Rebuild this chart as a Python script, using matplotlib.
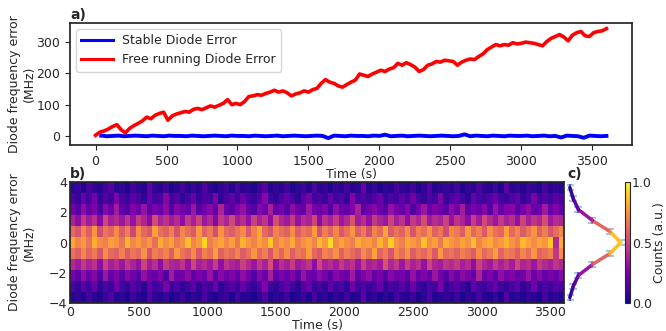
import matplotlib
matplotlib.use('Agg')
import matplotlib.pyplot as plt
import matplotlib.transforms as mtransforms
from matplotlib.collections import LineCollection
import numpy as np

# free running diode error (MHz), sampled every 30 s from 0 to 3600 s
free_running = [
    2, 12, 16, 22, 30, 36, 20, 10, 24, 33,
    40, 48, 60, 55, 66, 72, 76, 50, 64, 70,
    74, 78, 76, 85, 88, 84, 90, 96, 92, 98,
    104, 116, 100, 104, 100, 110, 126, 128, 132, 130,
    136, 140, 146, 140, 144, 138, 128, 134, 138, 144,
    140, 148, 152, 168, 180, 172, 168, 160, 156, 164,
    172, 178, 198, 194, 190, 198, 204, 210, 206, 214,
    218, 232, 226, 234, 228, 220, 206, 212, 226, 230,
    238, 236, 242, 240, 238, 226, 236, 242, 246, 244,
    254, 262, 276, 284, 292, 288, 292, 290, 298, 294,
    296, 300, 298, 296, 292, 288, 302, 312, 318, 324,
    316, 304, 322, 330, 334, 320, 318, 330, 334, 336,
    343,
]

# stabilised diode error (MHz), sampled every 40 s from 40 to 3600 s
stable = [
    1, -1, 0, 1, -1, 0, 1, 0, -1, 1,
    0, -1, 1, 0, 0, -1, 1, 0, -1, 0,
    1, 0, -1, 1, 0, 0, -1, 1, 0, -1,
    0, 1, -1, 0, 1, 0, -1, 0, 1, 0,
    -7, 1, 0, -1, 1, 0, 0, -1, 1, 0,
    4, -1, 0, 1, -1, 0, 1, 0, -1, 0,
    1, 0, -1, 0, 5, -1, 1, 0, -1, 1,
    0, -1, 1, 0, 0, 1, -1, 0, 1, -1,
    0, -5, 1, 0, -1, -6, 1, 0, -1, 0,
]

# normalised counts (%) per frequency bin, top bin (+3.6 MHz) first, 40 s columns
heat_rows = [
    [5, 8, 3, 12, 6, 4, 9, 15, 5, 7, 3, 10, 6, 4, 18, 7, 5, 9, 3, 6,
     11, 4, 8, 5, 14, 6, 3, 7, 9, 4, 12, 5, 6, 3, 8, 16, 4, 7, 5, 10,
     3, 6, 9, 4, 13, 5, 7, 3, 8, 5, 11, 4, 6, 20, 5, 8, 3, 7, 4, 12,
     6, 5, 9, 3, 7, 15, 4, 6, 8, 5, 10, 3, 7, 5, 12, 6, 4, 9, 3, 17,
     5, 7, 4, 8, 6, 3, 11, 5, 7, 4],
    [12, 8, 18, 10, 22, 7, 14, 9, 25, 11, 8, 16, 12, 6, 20, 10, 13, 27, 9, 15,
     7, 11, 19, 8, 14, 10, 24, 6, 12, 17, 9, 21, 11, 8, 15, 28, 10, 7, 13, 18,
     11, 6, 16, 23, 9, 12, 8, 19, 10, 14, 7, 26, 11, 15, 9, 13, 20, 8, 12, 10,
     17, 9, 22, 11, 7, 14, 10, 25, 8, 13, 16, 10, 6, 19, 12, 9, 15, 21, 11, 8,
     13, 18, 7, 11, 24, 9, 14, 10, 16, 12],
    [22, 15, 30, 18, 25, 12, 28, 20, 35, 17, 14, 26, 21, 32, 16, 24, 19, 29, 13, 27,
     23, 18, 33, 15, 22, 28, 17, 38, 20, 16, 25, 31, 19, 14, 27, 22, 36, 18, 24, 15,
     29, 21, 17, 34, 23, 19, 26, 14, 30, 20, 18, 25, 37, 16, 22, 28, 20, 15, 31, 24,
     19, 27, 14, 23, 33, 18, 26, 21, 16, 29, 22, 35, 17, 24, 20, 28, 15, 32, 19, 25,
     27, 16, 23, 30, 18, 21, 34, 20, 26, 17],
    [38, 30, 45, 35, 42, 28, 50, 36, 40, 33, 44, 31, 47, 39, 29, 52, 37, 43, 34, 41,
     30, 46, 36, 49, 33, 40, 27, 45, 38, 51, 35, 42, 31, 48, 37, 44, 30, 53, 39, 34,
     46, 32, 41, 37, 50, 29, 43, 36, 47, 33, 40, 55, 35, 42, 31, 46, 38, 33, 49, 36,
     43, 30, 45, 39, 52, 34, 41, 37, 48, 32, 44, 38, 29, 47, 35, 51, 40, 33, 45, 37,
     42, 31, 49, 36, 44, 39, 53, 34, 41, 38],
    [62, 55, 70, 58, 75, 52, 66, 60, 72, 57, 68, 50, 73, 61, 56, 78, 64, 59, 69, 54,
     71, 63, 57, 76, 60, 67, 53, 74, 62, 58, 65, 72, 56, 69, 80, 61, 55, 70, 64, 59,
     73, 57, 66, 62, 77, 54, 68, 60, 71, 56, 64, 75, 58, 67, 53, 70, 62, 79, 57, 65,
     60, 72, 55, 68, 63, 74, 59, 66, 52, 71, 67, 58, 76, 61, 69, 56, 73, 64, 60, 78,
     62, 70, 57, 66, 74, 59, 68, 55, 63, 71],
    [80, 70, 76, 65, 82, 72, 68, 78, 74, 66, 84, 71, 77, 69, 75, 63, 81, 73, 79, 67,
     72, 86, 70, 76, 92, 68, 74, 80, 71, 78, 66, 83, 75, 70, 79, 73, 88, 69, 77, 72,
     81, 67, 74, 78, 70, 85, 76, 93, 71, 79, 73, 68, 82, 75, 77, 70, 84, 72, 90, 74,
     69, 80, 76, 71, 87, 73, 78, 67, 82, 75, 71, 79, 74, 86, 70, 77, 81, 72, 76, 83,
     74, 69, 85, 78, 72, 80, 75, 88, 40, 82],
    [64, 58, 71, 60, 67, 55, 73, 62, 59, 69, 57, 66, 61, 74, 54, 68, 63, 70, 58, 76,
     65, 60, 72, 56, 69, 63, 78, 59, 66, 61, 70, 57, 64, 75, 62, 68, 55, 71, 60, 73,
     58, 67, 63, 77, 61, 56, 70, 65, 74, 59, 68, 62, 57, 72, 64, 79, 60, 67, 55, 71,
     63, 74, 58, 66, 61, 70, 56, 76, 62, 65, 59, 69, 64, 57, 73, 61, 67, 78, 60, 68,
     66, 58, 71, 63, 75, 60, 64, 69, 45, 72],
    [40, 34, 46, 37, 43, 30, 48, 36, 41, 33, 45, 38, 31, 49, 35, 42, 29, 46, 39, 37,
     44, 32, 50, 36, 41, 34, 47, 30, 43, 38, 35, 48, 40, 33, 45, 37, 52, 31, 42, 36,
     47, 34, 39, 44, 30, 50, 37, 41, 35, 46, 38, 43, 32, 48, 36, 40, 34, 54, 39, 45,
     33, 47, 37, 42, 31, 49, 38, 35, 44, 40, 46, 36, 41, 30, 48, 39, 34, 45, 37, 43,
     35, 50, 38, 42, 33, 46, 40, 36, 44, 39],
    [24, 17, 30, 20, 27, 14, 33, 19, 25, 16, 28, 21, 15, 31, 23, 18, 26, 13, 35, 20,
     22, 29, 17, 24, 19, 32, 16, 27, 21, 25, 18, 30, 23, 14, 28, 20, 36, 17, 24, 19,
     26, 15, 32, 21, 18, 29, 23, 16, 27, 22, 20, 34, 17, 25, 30, 19, 24, 14, 28, 21,
     23, 16, 31, 20, 26, 18, 33, 22, 15, 27, 19, 29, 24, 17, 38, 21, 25, 16, 30, 23,
     26, 18, 22, 32, 20, 27, 17, 24, 19, 28],
    [11, 7, 16, 9, 20, 6, 13, 8, 22, 10, 7, 15, 11, 5, 18, 9, 12, 24, 8, 14,
     6, 10, 17, 7, 13, 9, 21, 5, 11, 16, 8, 19, 10, 7, 14, 26, 9, 6, 12, 17,
     10, 5, 15, 20, 8, 11, 7, 18, 9, 13, 6, 23, 10, 14, 8, 12, 19, 7, 11, 9,
     16, 8, 21, 10, 6, 13, 9, 24, 7, 12, 15, 9, 5, 18, 11, 8, 14, 20, 10, 7,
     12, 17, 6, 10, 22, 8, 13, 9, 15, 11],
    [4, 7, 3, 10, 5, 3, 8, 13, 4, 6, 2, 9, 5, 3, 15, 6, 4, 8, 2, 5,
     10, 3, 7, 4, 12, 5, 2, 6, 8, 3, 11, 4, 5, 2, 7, 14, 3, 6, 4, 9,
     2, 5, 8, 3, 12, 4, 6, 2, 7, 4, 10, 3, 5, 17, 4, 7, 2, 6, 3, 11,
     5, 4, 8, 2, 6, 13, 3, 5, 7, 4, 9, 2, 6, 4, 11, 5, 3, 8, 2, 15,
     4, 6, 3, 7, 5, 2, 10, 4, 6, 3],
]

# averaged histogram for panel c, bottom bin first
profile = [0.05, 0.11, 0.20, 0.45, 0.76, 0.95, 0.76, 0.45, 0.20, 0.11, 0.05]
profile_err = 0.18

text_col = '#262626'
plt.rcParams['font.family'] = 'DejaVu Sans'
plt.rcParams['font.size'] = 9
plt.rcParams['text.color'] = text_col
plt.rcParams['axes.labelcolor'] = text_col
plt.rcParams['axes.edgecolor'] = text_col
plt.rcParams['axes.linewidth'] = 1.25
plt.rcParams['xtick.color'] = text_col
plt.rcParams['ytick.color'] = text_col

fig = plt.figure(figsize=(6.66, 3.31), dpi=100)
W, H = 666.0, 331.0


def px_axes(x0, y0, x1, y1):
    return fig.add_axes([x0 / W, 1 - y1 / H, (x1 - x0) / W, (y1 - y0) / H])


ax_a = px_axes(70, 23, 632, 145)
ax_b = px_axes(70, 182, 564, 303)
ax_c = px_axes(567, 182, 623.5, 303)
cax = px_axes(625, 182, 630, 303)

# panel a
free_time = np.linspace(0, 3600, len(free_running))
stable_time = np.linspace(40, 3600, len(stable))
ax_a.plot(stable_time, stable, color='blue', lw=2.8, label='Stable Diode Error')
ax_a.plot(free_time, free_running, color='red', lw=2.6, label='Free running Diode Error')
ax_a.set_ylim(-29, 361)
ax_a.set_yticks([0, 100, 200, 300])
ax_a.set_xticks(np.arange(0, 3501, 500))
ax_a.set_xlabel('Time (s)', labelpad=0)
leg = ax_a.legend(loc='upper left', handlelength=2.5, fontsize=9)
for line in leg.get_lines():
    line.set_linewidth(2.2)
ax_a.text(0, 1.01, 'a)', transform=ax_a.transAxes, fontweight='bold',
          fontsize=10, ha='left', va='bottom')

# panel b
counts = np.array(heat_rows, dtype=float)[::-1] / 100.0
t_edges = np.linspace(0, 3600, counts.shape[1] + 1)
f_edges = np.linspace(-4, 4, counts.shape[0] + 1)
mesh = ax_b.pcolormesh(t_edges, f_edges, counts, cmap='plasma', vmin=0, vmax=1)
ax_b.set_xlim(0, 3600)
ax_b.set_ylim(-4, 4)
ax_b.set_yticks([-4, -2, 0, 2, 4])
ax_b.set_xticks(np.arange(0, 3501, 500))
ax_b.tick_params(length=0, pad=2)
ax_b.set_xlabel('Time (s)', labelpad=0)
ax_b.text(0, 1.01, 'b)', transform=ax_b.transAxes, fontweight='bold',
          fontsize=10, ha='left', va='bottom')

for ax in (ax_a, ax_b):
    ax.set_ylabel('Diode frequency error\n(MHz)')
    trans = mtransforms.blended_transform_factory(fig.transFigure, ax.transAxes)
    ax.yaxis.set_label_coords(36 / W, 0.5, transform=trans)

# panel c
f_centers = (f_edges[:-1] + f_edges[1:]) / 2
prof = np.array(profile)
cmap = plt.get_cmap('plasma')
pts = np.column_stack([prof, f_centers])
segs = np.stack([pts[:-1], pts[1:]], axis=1)
seg_vals = (prof[:-1] + prof[1:]) / 2
lc = LineCollection(segs, colors=cmap(seg_vals), linewidths=2.5, capstyle='round')
ax_c.errorbar(prof, f_centers, yerr=profile_err, fmt='none', ecolor='#9cc8ec',
              elinewidth=1.5, capsize=3, capthick=1.5, zorder=1)
ax_c.add_collection(lc)
ax_c.scatter(prof, f_centers, c=prof, cmap='plasma', vmin=0, vmax=1,
             marker='|', s=22, linewidths=1.2, alpha=0.7, zorder=3)
ax_c.set_xlim(0, 1)
ax_c.set_ylim(-4, 4)
ax_c.axis('off')
ax_c.text(0, 1.01, 'c)', transform=ax_c.transAxes, fontweight='bold',
          fontsize=10, ha='left', va='bottom')

cb = fig.colorbar(mesh, cax=cax, ticks=[0, 0.5, 1.0])
cb.ax.set_yticklabels(['0.0', '0.5', '1.0'])
cb.ax.tick_params(length=0, pad=1.5)
cb.set_label('Counts (a.u.)', labelpad=1)
cb.outline.set_linewidth(0.8)

fig.savefig('out.png', dpi=100)
